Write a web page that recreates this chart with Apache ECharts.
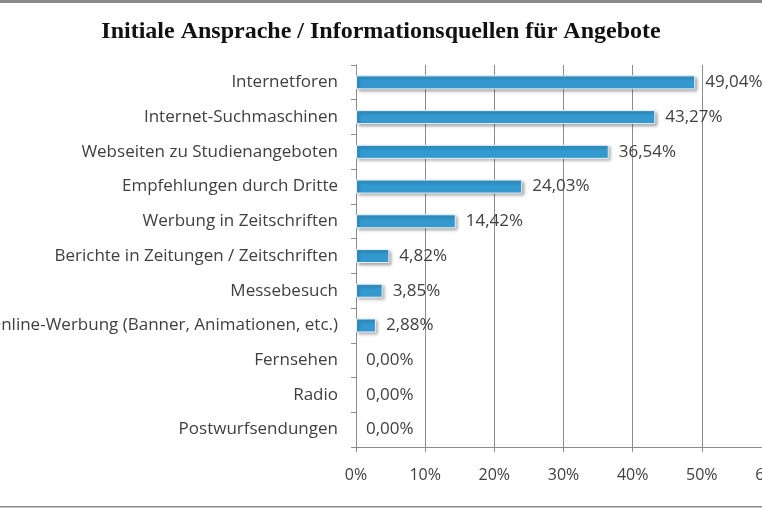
<!DOCTYPE html>
<html>
<head>
<meta charset="utf-8">
<script src="https://cdn.jsdelivr.net/npm/echarts@6/dist/echarts.min.js"></script>
<style>
  html, body { margin: 0; padding: 0; background: #fff; }
  #chart { width: 762px; height: 508px; }
</style>
</head>
<body>
<div id="chart"></div>
<script>
// Kategorien von oben nach unten
const categories = [
  'Internetforen',
  'Internet-Suchmaschinen',
  'Webseiten zu Studienangeboten',
  'Empfehlungen durch Dritte',
  'Werbung in Zeitschriften',
  'Berichte in Zeitungen / Zeitschriften',
  'Messebesuch',
  'Online-Werbung (Banner, Animationen, etc.)',
  'Fernsehen',
  'Radio',
  'Postwurfsendungen',
];
const shares = [49.04, 43.27, 36.54, 24.03, 14.42, 4.82, 3.85, 2.88, 0, 0, 0];
const xTicks = [0, 10, 20, 30, 40, 50, 60];

const TEXT = '#404040';
const GRID_LINE = '#8c8c8c';
const fmt = (v) => v.toFixed(2).replace('.', ',') + '%';

const chart = echarts.init(document.getElementById('chart'), null, { renderer: 'canvas' });

// Balken mit Wert 0: kein Schatten-Stummel, Beschriftung bleibt
const barData = shares.map((v) => (v === 0
  ? {
      value: v,
      itemStyle: {
        color: 'rgba(0,0,0,0)',
        borderWidth: 0,
        shadowBlur: 0,
        shadowOffsetX: 0,
        shadowOffsetY: 0,
        shadowColor: 'rgba(0,0,0,0)',
      },
    }
  : v));

chart.setOption({
  animation: false,
  backgroundColor: '#fff',
  title: {
    text: 'Initiale Ansprache / Informationsquellen für Angebote',
    left: 'center',
    top: 15,
    textStyle: {
      fontFamily: 'Liberation Serif',
      fontWeight: 'bold',
      fontSize: 24,
      color: '#111',
    },
  },
  // grauer Rahmen oben / unten
  graphic: [
    { type: 'rect', shape: { x: 0, y: 0, width: 762, height: 3 }, style: { fill: '#8a8a8a' } },
    { type: 'rect', shape: { x: 0, y: 506, width: 762, height: 1.5 }, style: { fill: '#8a8a8a' } },
  ],
  grid: {
    left: 356, top: 65, width: 415, height: 382,
    containLabel: false,
    outerBoundsMode: 'none',
  },
  xAxis: {
    type: 'value',
    min: xTicks[0],
    max: xTicks[xTicks.length - 1],
    interval: 10,
    axisLine: { show: true, lineStyle: { color: GRID_LINE, width: 1 } },
    axisTick: { show: true, length: 5, lineStyle: { color: GRID_LINE } },
    splitLine: { show: true, lineStyle: { color: GRID_LINE, width: 1 } },
    axisLabel: {
      color: TEXT,
      fontFamily: 'Open Sans',
      fontSize: 16,
      margin: 20,
      formatter: (v) => v + '%',
    },
  },
  yAxis: {
    type: 'category',
    data: categories,
    inverse: true,
    axisLine: { show: true, lineStyle: { color: GRID_LINE, width: 1 } },
    axisTick: { show: true, length: 5, lineStyle: { color: GRID_LINE } },
    axisLabel: {
      color: TEXT,
      fontFamily: 'Open Sans',
      fontSize: 17,
      margin: 18,
    },
  },
  series: [
    {
      type: 'bar',
      data: barData,
      barWidth: 14,
      itemStyle: {
        color: '#3399cf',
        borderColor: '#e8f1f7',
        borderWidth: 1,
        shadowColor: 'rgba(0,0,0,0.35)',
        shadowBlur: 3,
        shadowOffsetX: 2,
        shadowOffsetY: 2,
      },
      label: {
        show: true,
        position: 'right',
        distance: 10,
        color: TEXT,
        fontFamily: 'Open Sans',
        fontSize: 17,
        formatter: (p) => fmt(p.value),
      },
    },
  ],
});
</script>
</body>
</html>
